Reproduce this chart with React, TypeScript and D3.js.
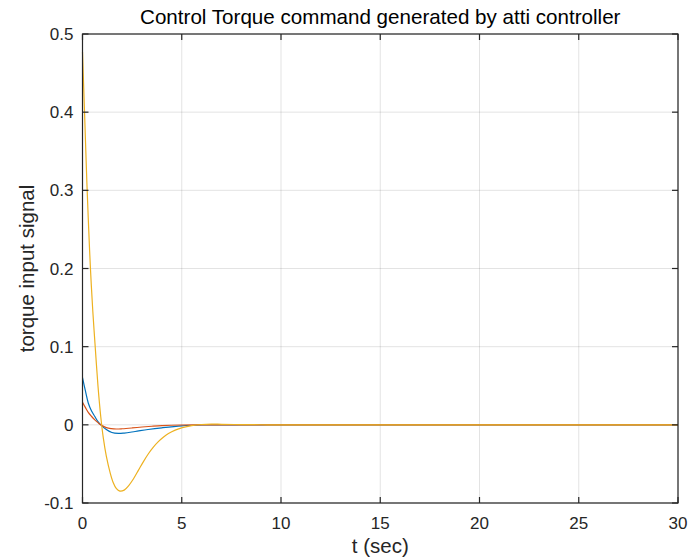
import React from "react";
import * as d3 from "d3";

const title = "Control Torque command generated by atti controller";
const xLabel = "t (sec)";
const yLabel = "torque input signal";
const xTicks = [0, 5, 10, 15, 20, 25, 30];
const yTicks = [-0.1, 0, 0.1, 0.2, 0.3, 0.4, 0.5];
const yTickLabels = ["-0.1", "0", "0.1", "0.2", "0.3", "0.4", "0.5"];

const blueT = [0, 0.15, 0.29, 0.45, 0.62, 0.78, 0.92, 1.2, 1.48, 1.81, 2.1, 2.65, 3.3, 4.0, 5.0, 6.0, 7.0, 10, 20, 30];
const blueV = [0.0605, 0.043, 0.028, 0.018, 0.0106, 0.004, 0, -0.006, -0.0098, -0.011, -0.0105, -0.0085, -0.006, -0.0038, -0.0013, -0.0002, 0, 0, 0, 0];

const redT = [0, 0.15, 0.29, 0.45, 0.62, 0.78, 0.92, 1.2, 1.45, 1.7, 2.0, 2.5, 3.0, 3.5, 4.0, 5.0, 6.0, 10, 20, 30];
const redV = [0.029, 0.022, 0.016, 0.011, 0.0064, 0.0028, 0, -0.0035, -0.0048, -0.0053, -0.005, -0.004, -0.0028, -0.0018, -0.001, -0.0002, 0, 0, 0, 0];

const yellowT = [0, 0.1, 0.22, 0.31, 0.4, 0.52, 0.64, 0.78, 0.92, 1.05, 1.2, 1.4, 1.55, 1.7, 1.85, 2.1, 2.32, 2.57, 2.82, 3.07, 3.32, 3.57, 3.82, 4.07, 4.33, 4.67, 5.03, 5.5, 6.0, 6.5, 7.0, 8.0, 9.0, 10, 20, 30];
const yellowV = [0.477, 0.402, 0.31, 0.252, 0.2, 0.145, 0.1, 0.0496, 0.0104, -0.017, -0.04, -0.062, -0.074, -0.0813, -0.0845, -0.0835, -0.078, -0.069, -0.058, -0.047, -0.037, -0.0285, -0.0215, -0.0158, -0.0112, -0.0068, -0.0036, -0.001, 0.0004, 0.0009, 0.0007, 0.0003, 0.0001, 0, 0, 0];

const series = [
  { t: blueT, v: blueV, color: "#0072BD" },
  { t: redT, v: redV, color: "#D95319" },
  { t: yellowT, v: yellowV, color: "#EDB120" },
];

const W = 690;
const H = 559;
const L = 82.5;
const R = 678;
const T = 34;
const B = 503;
const FONT = "'Liberation Sans', Arial, Helvetica, sans-serif";
const AX = "#262626";

export default function App() {
  const x = d3.scaleLinear().domain([0, 30]).range([L, R]);
  const y = d3.scaleLinear().domain([-0.1, 0.5]).range([B, T]);
  const line = d3
    .line<[number, number]>()
    .x((d) => x(d[0]))
    .y((d) => y(d[1]))
    .curve(d3.curveCatmullRom.alpha(0.5));
  const tick = 6;

  return (
    <svg
      width={W}
      height={H}
      style={{ position: "absolute", left: 0, top: 0, background: "#fff" }}
      fontFamily={FONT}
    >
      <rect x={0} y={0} width={W} height={H} fill="#fff" />
      {xTicks.map((t) => (
        <line key={"gx" + t} x1={x(t)} x2={x(t)} y1={T} y2={B} stroke={AX} strokeOpacity={0.13} strokeWidth={1} />
      ))}
      {yTicks.map((t) => (
        <line key={"gy" + t} x1={L} x2={R} y1={y(t)} y2={y(t)} stroke={AX} strokeOpacity={0.13} strokeWidth={1} />
      ))}
      {series.map((s, i) => (
        <path
          key={i}
          d={line(s.t.map((t, j) => [t, s.v[j]] as [number, number])) || ""}
          fill="none"
          stroke={s.color}
          strokeWidth={1.2}
        />
      ))}
      <rect x={L} y={T} width={R - L} height={B - T} fill="none" stroke={AX} strokeWidth={1.2} />
      {xTicks.map((t) => (
        <g key={"tx" + t}>
          <line x1={x(t)} x2={x(t)} y1={B} y2={B - tick} stroke={AX} strokeWidth={1.2} />
          <line x1={x(t)} x2={x(t)} y1={T} y2={T + tick} stroke={AX} strokeWidth={1.2} />
          <text x={x(t)} y={528.5} textAnchor="middle" fontSize={17} fill={AX}>
            {t}
          </text>
        </g>
      ))}
      {yTicks.map((t, i) => (
        <g key={"ty" + t}>
          <line x1={L} x2={L + tick} y1={y(t)} y2={y(t)} stroke={AX} strokeWidth={1.2} />
          <line x1={R} x2={R - tick} y1={y(t)} y2={y(t)} stroke={AX} strokeWidth={1.2} />
          <text x={73.5} y={y(t)} dy="0.36em" textAnchor="end" fontSize={17} fill={AX}>
            {yTickLabels[i]}
          </text>
        </g>
      ))}
      <text x={(L + R) / 2} y={553} textAnchor="middle" fontSize={20.5} fill={AX}>
        {xLabel}
      </text>
      <text
        transform={`translate(34, ${(T + B) / 2}) rotate(-90)`}
        textAnchor="middle"
        fontSize={20.5}
        fill={AX}
      >
        {yLabel}
      </text>
      <text x={(L + R) / 2} y={24} textAnchor="middle" fontSize={20.6} fill="#000">
        {title}
      </text>
    </svg>
  );
}
